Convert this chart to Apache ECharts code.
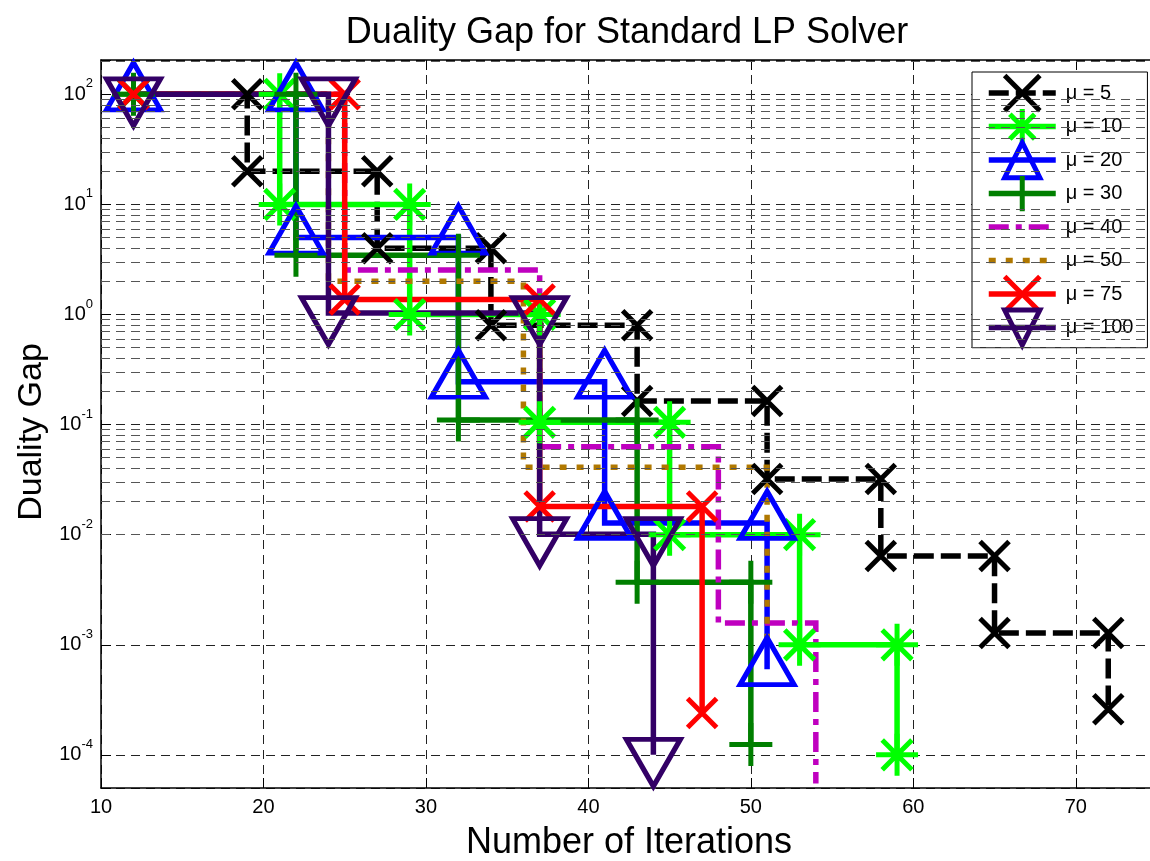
<!DOCTYPE html>
<html><head><meta charset="utf-8">
<script src="https://cdn.jsdelivr.net/npm/echarts@6/dist/echarts.min.js"></script>
<style>html,body{margin:0;padding:0;background:#fff}#chart{width:1150px;height:861px}</style>
</head><body><div id="chart"></div>
<script>
// ---- data ----
const seriesNames = ['\u03bc = 5', '\u03bc = 10', '\u03bc = 20', '\u03bc = 30', '\u03bc = 40', '\u03bc = 50', '\u03bc = 75', '\u03bc = 100'];
// iteration at which the gap changes, and the gap level held from that iteration on
const mu5Iter = [12, 19, 27, 34, 43, 51, 58, 65, 72];
const mu5Gap = [100, 20, 4, 0.8, 0.164, 0.032, 0.0064, 0.00128, 0.00026];
const mu10Iter = [12, 21, 29, 37, 45, 53, 59];
const mu10Gap = [100, 10, 1, 0.105, 0.01, 0.001, 0.0001];
const mu20Iter = [12, 22, 32, 41, 51];
const mu20Gap = [100, 5, 0.245, 0.0128, 0.0006];
const mu30Iter = [12, 22, 32, 43, 50];
const mu30Gap = [100, 3.45, 0.11, 0.0037, 0.000124];
const mu40Iter = [12, 25, 37, 48, 54];
const mu40Gap = [100, 2.54, 0.063, 0.00158, 0.000055];
const mu50Iter = [12, 24, 36, 51];
const mu50Gap = [100, 2.0, 0.041, 0.0009];
const mu75Iter = [12, 25, 37, 47];
const mu75Gap = [100, 1.37, 0.018, 0.00024];
const mu100Iter = [12, 24, 37, 44];
const mu100Gap = [100, 1.03, 0.0101, 0.0001];
const xTickLabels = [10, 20, 30, 40, 50, 60, 70];
const yDecades = [-4, -3, -2, -1, 0, 1, 2];
const minorMantissas = [2, 3, 4, 5, 6, 7, 8, 9];
const minorDecades = [-5, -4, -3, -2, -1, 0, 1, 2];

// ---- helpers ----
function stairs(xs, ys) {
  const pts = [[xs[0], ys[0]]];
  for (let i = 1; i < xs.length; i++) {
    pts.push([xs[i], ys[i - 1]]);
    pts.push([xs[i], ys[i]]);
  }
  return pts;
}
const Y_MIN = 5e-5, Y_MAX = 205;
const minorVals = [];
minorDecades.forEach(d => minorMantissas.forEach(m => {
  const v = m * Math.pow(10, d);
  if (v > Y_MIN * 1.01 && v < Y_MAX * 0.99) minorVals.push(v);
}));

const FONT = '"Liberation Sans", Arial, Helvetica, sans-serif';
const SYM_X = 'path://M0,0L10,10M10,0L0,10';
const SYM_STAR = 'path://M0,5L10,5M5,0L5,10M1.464,1.464L8.536,8.536M8.536,1.464L1.464,8.536';
const SYM_PLUS = 'path://M0,5L10,5M5,0L5,10';
const SYM_UP = 'path://M5,0L10,8.66L0,8.66Z';
const SYM_DOWN = 'path://M0,0L10,0L5,8.66Z';

const styles = [
  { color: '#000000', dash: [20, 7], symbol: SYM_X, size: 29, offset: [0, 0] },
  { color: '#00ff00', dash: 'solid', symbol: SYM_STAR, size: 42, offset: [0, 0] },
  { color: '#0000ff', dash: 'solid', symbol: SYM_UP, size: [54, 47], offset: [0, -8] },
  { color: '#007f00', dash: 'solid', symbol: SYM_PLUS, size: 43, offset: [0, 0] },
  { color: '#bf00bf', dash: [20, 7, 6, 7], symbol: 'none', size: 0, offset: [0, 0] },
  { color: '#b07800', dash: [7, 10], symbol: 'none', size: 0, offset: [0, 0] },
  { color: '#ff0000', dash: 'solid', symbol: SYM_X, size: 29, offset: [0, 0] },
  { color: '#330066', dash: 'solid', symbol: SYM_DOWN, size: [54, 47], offset: [0, 8] }
];
const seriesData = [
  stairs(mu5Iter, mu5Gap), stairs(mu10Iter, mu10Gap), stairs(mu20Iter, mu20Gap), stairs(mu30Iter, mu30Gap),
  stairs(mu40Iter, mu40Gap), stairs(mu50Iter, mu50Gap), stairs(mu75Iter, mu75Gap), stairs(mu100Iter, mu100Gap)
];

const LW = 5.5;
const series = [{
  name: 'minorGrid', type: 'line', data: [], z: 1, silent: true,
  markLine: {
    silent: true, symbol: ['none', 'none'], label: { show: false }, animation: false,
    lineStyle: { color: '#555', type: [9, 6], width: 1 },
    emphasis: { disabled: true },
    data: minorVals.map(v => ({ yAxis: v }))
  }
}];
seriesNames.forEach((name, i) => {
  const s = styles[i];
  series.push({
    name: name, type: 'line', data: seriesData[i], z: 2,
    symbol: s.symbol, symbolSize: s.size, symbolOffset: s.offset,
    showSymbol: s.symbol !== 'none',
    lineStyle: { color: s.color, width: LW, type: s.dash, cap: 'butt', join: 'miter' },
    itemStyle: { color: 'rgba(0,0,0,0)', borderColor: s.color, borderWidth: 5 },
    emphasis: { disabled: true }, silent: true, animation: false
  });
});

const chart = echarts.init(document.getElementById('chart'), null, { renderer: 'canvas' });
chart.setOption({
  backgroundColor: '#ffffff',
  animation: false,
  title: {
    text: 'Duality Gap for Standard LP Solver', left: 627, textAlign: 'center', top: 15,
    padding: 0,
    textStyle: { fontFamily: FONT, fontSize: 36, fontWeight: 'normal', color: '#000' }
  },
  grid: { left: 101, right: -7, top: 60, bottom: 73, containLabel: false, outerBoundsMode: 'none' },
  legend: {
    orient: 'vertical', left: 972, top: 72,
    padding: [1, 14, 0, 14],
    itemWidth: 67, itemHeight: 44, itemGap: -6.7,
    backgroundColor: '#ffffff', borderColor: '#000', borderWidth: 1,
    selectedMode: false,
    textStyle: { fontFamily: FONT, fontSize: 20, color: '#000', padding: [0, 0, 0, 5] },
    data: seriesNames.map((name, i) => ({
      name: name,
      itemStyle: styles[i].symbol === 'none' ? { opacity: 0, borderWidth: 5 } :
        { color: 'rgba(0,0,0,0)', borderColor: styles[i].color, borderWidth: 5 },
      lineStyle: { color: styles[i].color, width: LW, type: styles[i].dash }
    }))
  },
  xAxis: [{
    type: 'value', min: 10, max: 75, interval: 10, position: 'bottom',
    name: 'Number of Iterations', nameLocation: 'middle', nameGap: 37,
    nameTextStyle: { fontFamily: FONT, fontSize: 36, color: '#000' },
    axisLine: { show: true, onZero: false, lineStyle: { color: '#000', width: 1.5 } },
    axisTick: { show: true, inside: true, length: 10, lineStyle: { color: '#000', width: 1 } },
    axisLabel: {
      fontFamily: FONT, fontSize: 20, color: '#000', margin: 9, showMaxLabel: false,
      formatter: v => (xTickLabels.indexOf(v) >= 0 ? String(v) : '')
    },
    splitLine: { show: true, lineStyle: { color: '#222', type: [9, 6], width: 1 } }
  }, {
    type: 'value', min: 10, max: 75, interval: 10, position: 'top',
    axisLine: { show: true, onZero: false, lineStyle: { color: '#000', width: 1.5 } },
    axisTick: { show: true, inside: true, length: 10, lineStyle: { color: '#000', width: 1 } },
    axisLabel: { show: false }, splitLine: { show: false }
  }],
  yAxis: {
    type: 'log', logBase: 10, min: Y_MIN, max: Y_MAX,
    name: 'Duality Gap', nameLocation: 'middle', nameGap: 52,
    nameTextStyle: { fontFamily: FONT, fontSize: 34, color: '#000', padding: [0, 16, 0, 0] },
    axisLine: { show: true, onZero: false, lineStyle: { color: '#000', width: 1.5 } },
    axisTick: { show: true, inside: true, length: 10, lineStyle: { color: '#000', width: 1 } },
    axisLabel: {
      margin: 8, showMinLabel: true, showMaxLabel: true,
      formatter: v => {
        const l = Math.log10(v), e = Math.round(l);
        if (Math.abs(l - e) > 1e-6 || yDecades.indexOf(e) < 0) return '';
        return '{b|10}{s|' + e + '}';
      },
      rich: {
        b: { fontFamily: FONT, fontSize: 20, color: '#000', lineHeight: 34 },
        s: { fontFamily: FONT, fontSize: 13, color: '#000', lineHeight: 14, verticalAlign: 'top' }
      }
    },
    splitLine: { show: true, lineStyle: { color: '#222', type: [9, 6], width: 1 } }
  },
  series: series
});
</script></body></html>
